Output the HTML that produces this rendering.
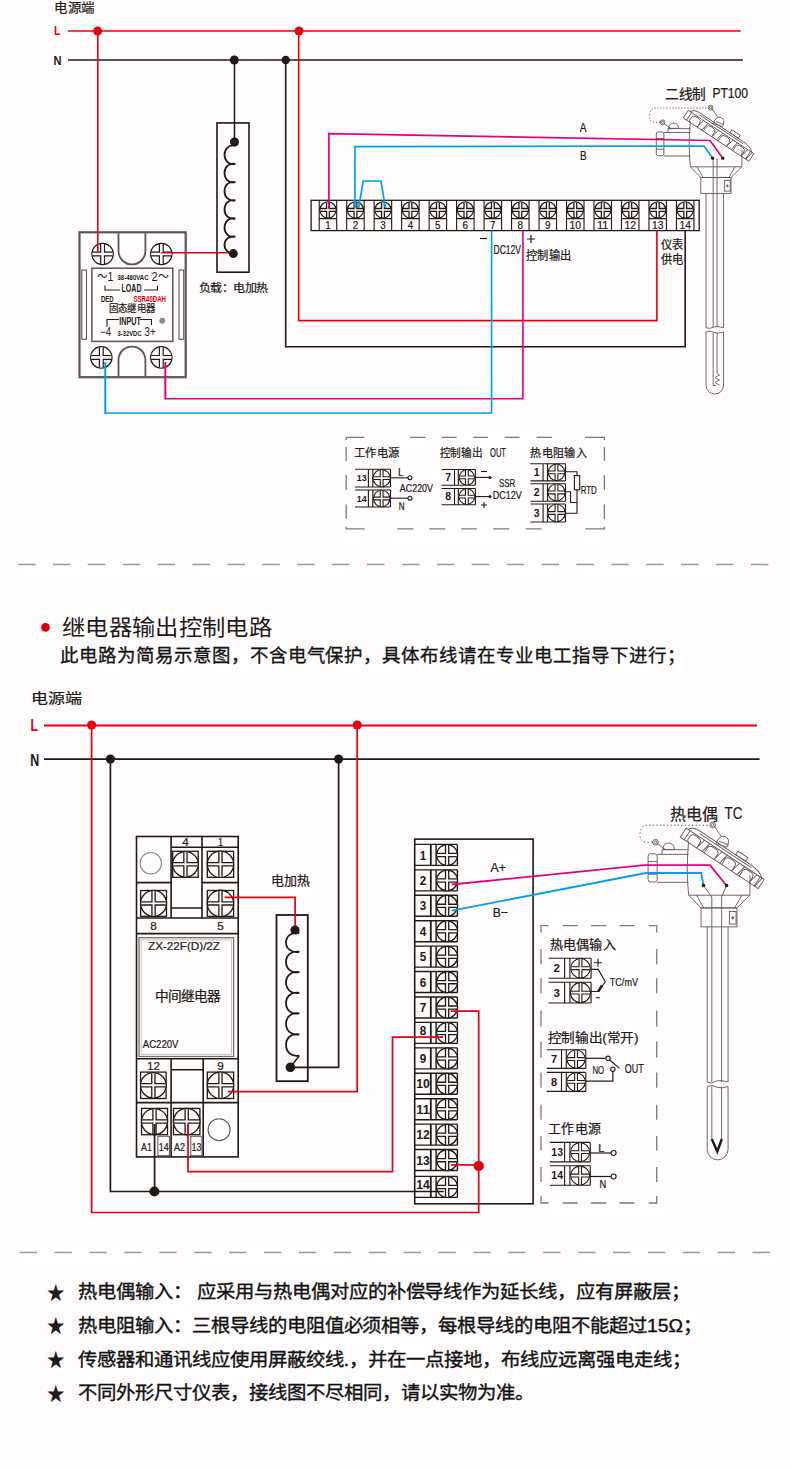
<!DOCTYPE html>
<html lang="zh-CN"><head><meta charset="utf-8"><title>wiring</title>
<style>html,body{margin:0;padding:0;background:#fefcfc;}body{width:790px;height:1469px;overflow:hidden;font-family:"Liberation Sans",sans-serif;}svg{display:block}</style></head>
<body><svg width="790" height="1469" viewBox="0 0 790 1469">
<text x="54" y="12" font-size="12.8" fill="#231815" text-anchor="start" font-weight="500" font-family="'Liberation Sans', sans-serif" textLength="41" lengthAdjust="spacingAndGlyphs" stroke="#231815" stroke-width="0.22">电源端</text>
<text x="54" y="34.7" font-size="13.5" fill="#e60012" text-anchor="start" font-weight="700" font-family="'Liberation Sans', sans-serif" textLength="6.5" lengthAdjust="spacingAndGlyphs" >L</text>
<text x="53.5" y="65" font-size="12.5" fill="#231815" text-anchor="start" font-weight="700" font-family="'Liberation Sans', sans-serif" textLength="8" lengthAdjust="spacingAndGlyphs" >N</text>
<line x1="68" y1="31" x2="740.6" y2="31" stroke="#e60012" stroke-width="1.7" />
<line x1="68" y1="60" x2="742.9" y2="60" stroke="#231815" stroke-width="1.7" />
<rect x="217" y="122.9" width="32" height="149.3" fill="none" stroke="#231815" stroke-width="1.6" />
<path d="M235.3 145.7 C220.936 142.97 220.936 166.63 235.3 163.9 C220.936 161.17000000000002 220.936 184.82999999999998 235.3 182.1 C220.936 179.37 220.936 203.03 235.3 200.3 C220.936 197.57000000000002 220.936 221.23 235.3 218.5 C220.936 215.77 220.936 239.42999999999998 235.3 236.7 C220.936 234.255 220.936 255.445 235.3 253" fill="none" stroke="#231815" stroke-width="1.8"/>
<text x="199" y="292" font-size="11.5" fill="#231815" text-anchor="start" font-weight="500" font-family="'Liberation Sans', sans-serif" textLength="68.5" lengthAdjust="spacingAndGlyphs" stroke="#231815" stroke-width="0.22">负载：电加热</text>
<rect x="311.1" y="200.3" width="388.1" height="30.3" fill="none" stroke="#231815" stroke-width="1.3" />
<path d="M319.20 200.3V230.6M336.70 200.3V230.6M319.20 218.6H336.70" stroke="#231815" stroke-width="1.1" fill="none"/>
<circle cx="328.0" cy="209.9" r="8.1" fill="#fefcfc" stroke="#231815" stroke-width="1.3"/>
<path d="M320.55 209.9H335.45M328.0 202.45000000000002V217.35" stroke="#231815" stroke-width="4.1"/>
<path d="M320.55 209.9H335.45M328.0 202.45000000000002V217.35" stroke="#fefcfc" stroke-width="1.4999999999999998"/>
<text x="327.95" y="228.8" font-size="11" fill="#231815" text-anchor="middle" font-weight="400" font-family="'Liberation Sans', sans-serif" textLength="5.5" lengthAdjust="spacingAndGlyphs" stroke="#231815" stroke-width="0.2">1</text>
<path d="M346.68 200.3V230.6M364.18 200.3V230.6M346.68 218.6H364.18" stroke="#231815" stroke-width="1.1" fill="none"/>
<circle cx="355.48" cy="209.9" r="8.1" fill="#fefcfc" stroke="#231815" stroke-width="1.3"/>
<path d="M348.03000000000003 209.9H362.93M355.48 202.45000000000002V217.35" stroke="#231815" stroke-width="4.1"/>
<path d="M348.03000000000003 209.9H362.93M355.48 202.45000000000002V217.35" stroke="#fefcfc" stroke-width="1.4999999999999998"/>
<text x="355.43" y="228.8" font-size="11" fill="#231815" text-anchor="middle" font-weight="400" font-family="'Liberation Sans', sans-serif" textLength="5.5" lengthAdjust="spacingAndGlyphs" stroke="#231815" stroke-width="0.2">2</text>
<path d="M374.16 200.3V230.6M391.66 200.3V230.6M374.16 218.6H391.66" stroke="#231815" stroke-width="1.1" fill="none"/>
<circle cx="382.96" cy="209.9" r="8.1" fill="#fefcfc" stroke="#231815" stroke-width="1.3"/>
<path d="M375.51 209.9H390.40999999999997M382.96 202.45000000000002V217.35" stroke="#231815" stroke-width="4.1"/>
<path d="M375.51 209.9H390.40999999999997M382.96 202.45000000000002V217.35" stroke="#fefcfc" stroke-width="1.4999999999999998"/>
<text x="382.91" y="228.8" font-size="11" fill="#231815" text-anchor="middle" font-weight="400" font-family="'Liberation Sans', sans-serif" textLength="5.5" lengthAdjust="spacingAndGlyphs" stroke="#231815" stroke-width="0.2">3</text>
<path d="M401.64 200.3V230.6M419.14 200.3V230.6M401.64 218.6H419.14" stroke="#231815" stroke-width="1.1" fill="none"/>
<circle cx="410.44" cy="209.9" r="8.1" fill="#fefcfc" stroke="#231815" stroke-width="1.3"/>
<path d="M402.99 209.9H417.89M410.44 202.45000000000002V217.35" stroke="#231815" stroke-width="4.1"/>
<path d="M402.99 209.9H417.89M410.44 202.45000000000002V217.35" stroke="#fefcfc" stroke-width="1.4999999999999998"/>
<text x="410.39" y="228.8" font-size="11" fill="#231815" text-anchor="middle" font-weight="400" font-family="'Liberation Sans', sans-serif" textLength="5.5" lengthAdjust="spacingAndGlyphs" stroke="#231815" stroke-width="0.2">4</text>
<path d="M429.12 200.3V230.6M446.62 200.3V230.6M429.12 218.6H446.62" stroke="#231815" stroke-width="1.1" fill="none"/>
<circle cx="437.92" cy="209.9" r="8.1" fill="#fefcfc" stroke="#231815" stroke-width="1.3"/>
<path d="M430.47 209.9H445.37M437.92 202.45000000000002V217.35" stroke="#231815" stroke-width="4.1"/>
<path d="M430.47 209.9H445.37M437.92 202.45000000000002V217.35" stroke="#fefcfc" stroke-width="1.4999999999999998"/>
<text x="437.87" y="228.8" font-size="11" fill="#231815" text-anchor="middle" font-weight="400" font-family="'Liberation Sans', sans-serif" textLength="5.5" lengthAdjust="spacingAndGlyphs" stroke="#231815" stroke-width="0.2">5</text>
<path d="M456.60 200.3V230.6M474.10 200.3V230.6M456.60 218.6H474.10" stroke="#231815" stroke-width="1.1" fill="none"/>
<circle cx="465.4" cy="209.9" r="8.1" fill="#fefcfc" stroke="#231815" stroke-width="1.3"/>
<path d="M457.95 209.9H472.84999999999997M465.4 202.45000000000002V217.35" stroke="#231815" stroke-width="4.1"/>
<path d="M457.95 209.9H472.84999999999997M465.4 202.45000000000002V217.35" stroke="#fefcfc" stroke-width="1.4999999999999998"/>
<text x="465.35" y="228.8" font-size="11" fill="#231815" text-anchor="middle" font-weight="400" font-family="'Liberation Sans', sans-serif" textLength="5.5" lengthAdjust="spacingAndGlyphs" stroke="#231815" stroke-width="0.2">6</text>
<path d="M484.08 200.3V230.6M501.58 200.3V230.6M484.08 218.6H501.58" stroke="#231815" stroke-width="1.1" fill="none"/>
<circle cx="492.88" cy="209.9" r="8.1" fill="#fefcfc" stroke="#231815" stroke-width="1.3"/>
<path d="M485.43 209.9H500.33M492.88 202.45000000000002V217.35" stroke="#231815" stroke-width="4.1"/>
<path d="M485.43 209.9H500.33M492.88 202.45000000000002V217.35" stroke="#fefcfc" stroke-width="1.4999999999999998"/>
<text x="492.83" y="228.8" font-size="11" fill="#231815" text-anchor="middle" font-weight="400" font-family="'Liberation Sans', sans-serif" textLength="5.5" lengthAdjust="spacingAndGlyphs" stroke="#231815" stroke-width="0.2">7</text>
<path d="M511.56 200.3V230.6M529.06 200.3V230.6M511.56 218.6H529.06" stroke="#231815" stroke-width="1.1" fill="none"/>
<circle cx="520.36" cy="209.9" r="8.1" fill="#fefcfc" stroke="#231815" stroke-width="1.3"/>
<path d="M512.91 209.9H527.8100000000001M520.36 202.45000000000002V217.35" stroke="#231815" stroke-width="4.1"/>
<path d="M512.91 209.9H527.8100000000001M520.36 202.45000000000002V217.35" stroke="#fefcfc" stroke-width="1.4999999999999998"/>
<text x="520.31" y="228.8" font-size="11" fill="#231815" text-anchor="middle" font-weight="400" font-family="'Liberation Sans', sans-serif" textLength="5.5" lengthAdjust="spacingAndGlyphs" stroke="#231815" stroke-width="0.2">8</text>
<path d="M539.04 200.3V230.6M556.54 200.3V230.6M539.04 218.6H556.54" stroke="#231815" stroke-width="1.1" fill="none"/>
<circle cx="547.84" cy="209.9" r="8.1" fill="#fefcfc" stroke="#231815" stroke-width="1.3"/>
<path d="M540.39 209.9H555.2900000000001M547.84 202.45000000000002V217.35" stroke="#231815" stroke-width="4.1"/>
<path d="M540.39 209.9H555.2900000000001M547.84 202.45000000000002V217.35" stroke="#fefcfc" stroke-width="1.4999999999999998"/>
<text x="547.79" y="228.8" font-size="11" fill="#231815" text-anchor="middle" font-weight="400" font-family="'Liberation Sans', sans-serif" textLength="5.5" lengthAdjust="spacingAndGlyphs" stroke="#231815" stroke-width="0.2">9</text>
<path d="M566.52 200.3V230.6M584.02 200.3V230.6M566.52 218.6H584.02" stroke="#231815" stroke-width="1.1" fill="none"/>
<circle cx="575.32" cy="209.9" r="8.1" fill="#fefcfc" stroke="#231815" stroke-width="1.3"/>
<path d="M567.87 209.9H582.7700000000001M575.32 202.45000000000002V217.35" stroke="#231815" stroke-width="4.1"/>
<path d="M567.87 209.9H582.7700000000001M575.32 202.45000000000002V217.35" stroke="#fefcfc" stroke-width="1.4999999999999998"/>
<text x="575.27" y="228.8" font-size="11" fill="#231815" text-anchor="middle" font-weight="400" font-family="'Liberation Sans', sans-serif" textLength="11.5" lengthAdjust="spacingAndGlyphs" stroke="#231815" stroke-width="0.2">10</text>
<path d="M594.00 200.3V230.6M611.50 200.3V230.6M594.00 218.6H611.50" stroke="#231815" stroke-width="1.1" fill="none"/>
<circle cx="602.8" cy="209.9" r="8.1" fill="#fefcfc" stroke="#231815" stroke-width="1.3"/>
<path d="M595.3499999999999 209.9H610.25M602.8 202.45000000000002V217.35" stroke="#231815" stroke-width="4.1"/>
<path d="M595.3499999999999 209.9H610.25M602.8 202.45000000000002V217.35" stroke="#fefcfc" stroke-width="1.4999999999999998"/>
<text x="602.75" y="228.8" font-size="11" fill="#231815" text-anchor="middle" font-weight="400" font-family="'Liberation Sans', sans-serif" textLength="11.5" lengthAdjust="spacingAndGlyphs" stroke="#231815" stroke-width="0.2">11</text>
<path d="M621.48 200.3V230.6M638.98 200.3V230.6M621.48 218.6H638.98" stroke="#231815" stroke-width="1.1" fill="none"/>
<circle cx="630.28" cy="209.9" r="8.1" fill="#fefcfc" stroke="#231815" stroke-width="1.3"/>
<path d="M622.8299999999999 209.9H637.73M630.28 202.45000000000002V217.35" stroke="#231815" stroke-width="4.1"/>
<path d="M622.8299999999999 209.9H637.73M630.28 202.45000000000002V217.35" stroke="#fefcfc" stroke-width="1.4999999999999998"/>
<text x="630.23" y="228.8" font-size="11" fill="#231815" text-anchor="middle" font-weight="400" font-family="'Liberation Sans', sans-serif" textLength="11.5" lengthAdjust="spacingAndGlyphs" stroke="#231815" stroke-width="0.2">12</text>
<path d="M648.96 200.3V230.6M666.46 200.3V230.6M648.96 218.6H666.46" stroke="#231815" stroke-width="1.1" fill="none"/>
<circle cx="657.76" cy="209.9" r="8.1" fill="#fefcfc" stroke="#231815" stroke-width="1.3"/>
<path d="M650.31 209.9H665.21M657.76 202.45000000000002V217.35" stroke="#231815" stroke-width="4.1"/>
<path d="M650.31 209.9H665.21M657.76 202.45000000000002V217.35" stroke="#fefcfc" stroke-width="1.4999999999999998"/>
<text x="657.71" y="228.8" font-size="11" fill="#231815" text-anchor="middle" font-weight="400" font-family="'Liberation Sans', sans-serif" textLength="11.5" lengthAdjust="spacingAndGlyphs" stroke="#231815" stroke-width="0.2">13</text>
<path d="M676.44 200.3V230.6M693.94 200.3V230.6M676.44 218.6H693.94" stroke="#231815" stroke-width="1.1" fill="none"/>
<circle cx="685.24" cy="209.9" r="8.1" fill="#fefcfc" stroke="#231815" stroke-width="1.3"/>
<path d="M677.79 209.9H692.69M685.24 202.45000000000002V217.35" stroke="#231815" stroke-width="4.1"/>
<path d="M677.79 209.9H692.69M685.24 202.45000000000002V217.35" stroke="#fefcfc" stroke-width="1.4999999999999998"/>
<text x="685.19" y="228.8" font-size="11" fill="#231815" text-anchor="middle" font-weight="400" font-family="'Liberation Sans', sans-serif" textLength="11.5" lengthAdjust="spacingAndGlyphs" stroke="#231815" stroke-width="0.2">14</text>
<text x="579.7" y="132.3" font-size="13.5" fill="#231815" text-anchor="start" font-weight="400" font-family="'Liberation Sans', sans-serif" textLength="6.8" lengthAdjust="spacingAndGlyphs" stroke="#231815" stroke-width="0.22">A</text>
<text x="580" y="160.4" font-size="13.5" fill="#231815" text-anchor="start" font-weight="400" font-family="'Liberation Sans', sans-serif" textLength="6.6" lengthAdjust="spacingAndGlyphs" stroke="#231815" stroke-width="0.22">B</text>
<line x1="480" y1="238.5" x2="487" y2="238.5" stroke="#231815" stroke-width="1.2" />
<path d="M527 239H535M531 235V243" stroke="#231815" stroke-width="1.2"/>
<text x="493.5" y="254.2" font-size="12.3" fill="#231815" text-anchor="start" font-weight="400" font-family="'Liberation Sans', sans-serif" textLength="27.5" lengthAdjust="spacingAndGlyphs" stroke="#231815" stroke-width="0.22">DC12V</text>
<text x="526" y="259.5" font-size="12" fill="#231815" text-anchor="start" font-weight="500" font-family="'Liberation Sans', sans-serif" textLength="45" lengthAdjust="spacingAndGlyphs" stroke="#231815" stroke-width="0.22">控制输出</text>
<text x="660.5" y="249" font-size="12" fill="#231815" text-anchor="start" font-weight="500" font-family="'Liberation Sans', sans-serif" textLength="22.5" lengthAdjust="spacingAndGlyphs" stroke="#231815" stroke-width="0.22">仪表</text>
<text x="660.5" y="263.5" font-size="12" fill="#231815" text-anchor="start" font-weight="500" font-family="'Liberation Sans', sans-serif" textLength="22.5" lengthAdjust="spacingAndGlyphs" stroke="#231815" stroke-width="0.22">供电</text>
<text x="665" y="98.5" font-size="14" fill="#231815" text-anchor="start" font-weight="500" font-family="'Liberation Sans', sans-serif" textLength="41" lengthAdjust="spacingAndGlyphs" stroke="#231815" stroke-width="0.22">二线制</text>
<text x="712.4" y="97.7" font-size="13.8" fill="#231815" text-anchor="start" font-weight="400" font-family="'Liberation Sans', sans-serif" textLength="35.6" lengthAdjust="spacingAndGlyphs" stroke="#231815" stroke-width="0.22">PT100</text>
<g transform="translate(0,0) scale(1)" fill="none" stroke="#5f5a58" stroke-width="0.90">
<rect x="656.3" y="132" width="7.6" height="23.7" rx="2"/>
<path d="M656.3 138.5H663.9M656.3 149.2H663.9"/>
<path d="M663.9 132.5H690.4M663.9 156H690.4M668 132.5V128.6H690.4"/>
<circle cx="662.5" cy="122.3" r="2.4"/><circle cx="662.5" cy="122.3" r="1.1"/><path d="M664 123.6L670.5 128.2"/>
<path d="M668.5 128.4Q669 123 673.5 123Q678 123 678.6 128.4Z"/>
<path d="M690.4 121Q688 145 690.4 166.8H741.9V150"/>
<g transform="translate(688.3,110.4) rotate(33.4)">
<rect x="0" y="0" width="78.5" height="9.1"/>
<path d="M4 0V9.1M74.5 0V9.1"/>
<path d="M6.5 9.1V4Q6.5 1 10.5 1H12.5Q16.5 1 16.5 4V9.1M16.5 9.1L18.5 0M22.1 9.1L23.700000000000003 0"/>
<path d="M24.1 9.1V4Q24.1 1 28.1 1H30.1Q34.1 1 34.1 4V9.1M34.1 9.1L36.1 0M39.7 9.1L41.300000000000004 0"/>
<path d="M41.7 9.1V4Q41.7 1 45.7 1H47.7Q51.7 1 51.7 4V9.1M51.7 9.1L53.7 0M57.300000000000004 9.1L58.900000000000006 0"/>
<path d="M59.300000000000004 9.1V4Q59.300000000000004 1 63.300000000000004 1H65.30000000000001Q69.30000000000001 1 69.30000000000001 4V9.1M69.30000000000001 9.1L71.30000000000001 0M74.9 9.1L76.5 0"/>
<path d="M2 0Q4 -4.2 10 -4.2H62Q72 -4.2 76 0M12 -2.4H64"/>
<rect x="47" y="-7.8" width="10" height="3.6"/>
</g>
<path d="M713.5 123.5Q715.5 116 721 117.5Q726 119.5 722.5 126.5Z"/><path d="M716 121.5L724 124.5"/>
<circle cx="710.6" cy="107.7" r="2.4"/><circle cx="710.6" cy="107.7" r="1.1"/><path d="M712 109L717.5 117"/>
<path d="M660 122.3H655Q649 122 649.5 115Q650.5 108 656 108H708" stroke-dasharray="1.1 1.9" stroke="#444"/>
<path d="M690.4 166.8L700.8 177.5H731L741.9 166.8M697 166.8L703 177.5M735 166.8L729 177.5"/>
<rect x="700.8" y="177.5" width="30.2" height="15.9"/>
<rect x="724.6" y="180.5" width="5.6" height="10.6"/><circle cx="727.4" cy="185.8" r="0.9" fill="#6f6b6a"/>
<path d="M706 193.4V327.6M723.5 193.4V327.6M706 327.6Q710 329.6 713 327.1Q717 325.6 723.5 327.6"/>
<path d="M706 332Q710 330 714 332.5Q718 334 723.5 332"/>
<path d="M706 332V385.25A8.75 8.75 0 0 0 723.5 385.25V332"/>
</g>
<g fill="none" stroke="#5f5a58" stroke-width="0.9">
<path d="M713.2 158.2V327.5M717.1 158.2V327.5M713.2 333V385.5H716M717.1 333V373"/>
<path d="M717.1 373L719.5 375L715 377.5L719.5 380L715 382.5L719.5 385"/>
</g>
<rect x="79.5" y="232.3" width="106.2" height="144.9" fill="none" stroke="#5a5655" stroke-width="2.2" />
<path d="M118.5 233.3V251A13.45 13.45 0 0 0 145.4 251V233.3M118.5 376.2V360A13.45 13.45 0 0 1 145.4 360V376.2" fill="none" stroke="#5a5655" stroke-width="1.8"/>
<rect x="91.9" y="268.2" width="80.9" height="73.2" fill="none" stroke="#5a5655" stroke-width="1.5" />
<rect x="81.8" y="270" width="4.7" height="69.3" fill="none" stroke="#5a5655" stroke-width="1.1" />
<rect x="179" y="270" width="4.7" height="69.3" fill="none" stroke="#5a5655" stroke-width="1.1" />
<circle cx="102.6" cy="254" r="10.7" fill="#fefcfc" stroke="#231815" stroke-width="1.2"/>
<path d="M92.5 254H112.69999999999999M102.6 243.9V264.1" stroke="#231815" stroke-width="5.0"/>
<path d="M92.5 254H112.69999999999999M102.6 243.9V264.1" stroke="#fefcfc" stroke-width="2.5999999999999996"/>
<circle cx="161.3" cy="254" r="10.7" fill="#fefcfc" stroke="#231815" stroke-width="1.2"/>
<path d="M151.20000000000002 254H171.4M161.3 243.9V264.1" stroke="#231815" stroke-width="5.0"/>
<path d="M151.20000000000002 254H171.4M161.3 243.9V264.1" stroke="#fefcfc" stroke-width="2.5999999999999996"/>
<circle cx="101.3" cy="357.4" r="10.7" fill="#fefcfc" stroke="#231815" stroke-width="1.2"/>
<path d="M91.2 357.4H111.39999999999999M101.3 347.29999999999995V367.5" stroke="#231815" stroke-width="5.0"/>
<path d="M91.2 357.4H111.39999999999999M101.3 347.29999999999995V367.5" stroke="#fefcfc" stroke-width="2.5999999999999996"/>
<circle cx="161.3" cy="357.4" r="10.7" fill="#fefcfc" stroke="#231815" stroke-width="1.2"/>
<path d="M151.20000000000002 357.4H171.4M161.3 347.29999999999995V367.5" stroke="#231815" stroke-width="5.0"/>
<path d="M151.20000000000002 357.4H171.4M161.3 347.29999999999995V367.5" stroke="#fefcfc" stroke-width="2.5999999999999996"/>
<text x="97" y="281.2" font-size="12" fill="#231815" text-anchor="start" font-weight="400" font-family="'Liberation Sans', sans-serif" textLength="16.5" lengthAdjust="spacingAndGlyphs" stroke-width="0">～1</text>
<text x="117.5" y="280" font-size="7.5" fill="#231815" text-anchor="start" font-weight="700" font-family="'Liberation Sans', sans-serif" textLength="31" lengthAdjust="spacingAndGlyphs" >38-480VAC</text>
<text x="151.5" y="281.2" font-size="12" fill="#231815" text-anchor="start" font-weight="400" font-family="'Liberation Sans', sans-serif" textLength="17" lengthAdjust="spacingAndGlyphs" stroke-width="0">2～</text>
<path d="M105 285.5V290H120M144 290H157.5V285.5" fill="none" stroke="#231815" stroke-width="1.1"/>
<text x="121.5" y="292.3" font-size="10" fill="#231815" text-anchor="start" font-weight="700" font-family="'Liberation Sans', sans-serif" textLength="20" lengthAdjust="spacingAndGlyphs" >LOAD</text>
<text x="101" y="301.7" font-size="8.5" fill="#231815" text-anchor="start" font-weight="700" font-family="'Liberation Sans', sans-serif" textLength="12.5" lengthAdjust="spacingAndGlyphs" >DED</text>
<text x="133.5" y="301.7" font-size="8.5" fill="#e60012" text-anchor="start" font-weight="700" font-family="'Liberation Sans', sans-serif" textLength="32.5" lengthAdjust="spacingAndGlyphs" >SSR40DAH</text>
<text x="109" y="311.5" font-size="10.3" fill="#231815" text-anchor="start" font-weight="500" font-family="'Liberation Sans', sans-serif" textLength="46" lengthAdjust="spacingAndGlyphs" stroke="#231815" stroke-width="0.22">固态继电器</text>
<path d="M107 327V319.5H119M140 319.5H151.5V325" fill="none" stroke="#231815" stroke-width="1.1"/>
<text x="119.3" y="324.8" font-size="10" fill="#231815" text-anchor="start" font-weight="700" font-family="'Liberation Sans', sans-serif" textLength="21.7" lengthAdjust="spacingAndGlyphs" >INPUT</text>
<circle cx="162.2" cy="320.7" r="3" fill="#8f8f8f"/>
<text x="100" y="335.5" font-size="12" fill="#231815" text-anchor="start" font-weight="400" font-family="'Liberation Sans', sans-serif" textLength="11" lengthAdjust="spacingAndGlyphs" stroke-width="0">−4</text>
<text x="117.5" y="336" font-size="7.5" fill="#231815" text-anchor="start" font-weight="700" font-family="'Liberation Sans', sans-serif" textLength="24" lengthAdjust="spacingAndGlyphs" >3-32VDC</text>
<text x="144.6" y="335.5" font-size="12" fill="#231815" text-anchor="start" font-weight="400" font-family="'Liberation Sans', sans-serif" textLength="11" lengthAdjust="spacingAndGlyphs" stroke-width="0">3+</text>
<path d="M345.6 437.4H364.5M410 437.4H425.4M441.8 437.4H456.6M473.3 437.4H488M504.7 437.4H519.6M536.5 437.4H551.9M585 437.4H605M345.6 528.9H364.6M397.4 528.9H413.5M429.5 528.9H445.3M461.3 528.9H476.7M493.1 528.9H509.2M525.6 528.9H541.6M585.4 528.9H605M346.2 436.8V440M604.4 436.8V440M346.2 447V461M604.4 447V461M346.2 475.2V489.8M604.4 475.2V489.8M346.2 504.4V519M604.4 504.4V519M346.2 526.8V529.5M604.4 526.8V529.5" stroke="#7a7a7a" stroke-width="1.3" fill="none"/>
<text x="353.7" y="457" font-size="11.8" fill="#231815" text-anchor="start" font-weight="500" font-family="'Liberation Sans', sans-serif" textLength="46.1" lengthAdjust="spacingAndGlyphs" stroke="#231815" stroke-width="0.22">工作电源</text>
<text x="439.5" y="457" font-size="11.8" fill="#231815" text-anchor="start" font-weight="500" font-family="'Liberation Sans', sans-serif" textLength="43.4" lengthAdjust="spacingAndGlyphs" stroke="#231815" stroke-width="0.22">控制输出</text>
<text x="490" y="456.5" font-size="12" fill="#231815" text-anchor="start" font-weight="400" font-family="'Liberation Sans', sans-serif" textLength="16" lengthAdjust="spacingAndGlyphs" stroke="#231815" stroke-width="0.22">OUT</text>
<text x="530.4" y="457" font-size="11.8" fill="#231815" text-anchor="start" font-weight="500" font-family="'Liberation Sans', sans-serif" textLength="56.4" lengthAdjust="spacingAndGlyphs" stroke="#231815" stroke-width="0.22">热电阻输入</text>
<path d="M355 469.3H390.5M355 487H390.5M368.4 469.3V487M372.8 469.3V487M390.5 469.3V487" stroke="#231815" stroke-width="1.1" fill="none"/>
<circle cx="381.65" cy="478.15" r="8.549999999999994" fill="#fefcfc" stroke="#231815" stroke-width="1.1"/>
<path d="M373.65 478.15H389.65M381.65 470.15V486.15" stroke="#231815" stroke-width="3.9"/>
<path d="M373.65 478.15H389.65M381.65 470.15V486.15" stroke="#fefcfc" stroke-width="1.6999999999999997"/>
<text x="361.7" y="481.39" font-size="9" fill="#231815" text-anchor="middle" font-weight="700" font-family="'Liberation Sans', sans-serif" >13</text>
<path d="M355 490H390.5M355 507H390.5M368.4 490V507M372.8 490V507M390.5 490V507" stroke="#231815" stroke-width="1.1" fill="none"/>
<circle cx="381.65" cy="498.5" r="8.2" fill="#fefcfc" stroke="#231815" stroke-width="1.1"/>
<path d="M374.0 498.5H389.29999999999995M381.65 490.85V506.15" stroke="#231815" stroke-width="3.9"/>
<path d="M374.0 498.5H389.29999999999995M381.65 490.85V506.15" stroke="#fefcfc" stroke-width="1.6999999999999997"/>
<text x="361.7" y="501.74" font-size="9" fill="#231815" text-anchor="middle" font-weight="700" font-family="'Liberation Sans', sans-serif" >14</text>
<polyline points="390.5,477.8 408,477.8" fill="none" stroke="#231815" stroke-width="1.1" stroke-linejoin="miter" />
<circle cx="410" cy="477.8" r="2" fill="#fefcfc" stroke="#231815" stroke-width="1.1"/>
<polyline points="390.5,498.2 408,498.2" fill="none" stroke="#231815" stroke-width="1.1" stroke-linejoin="miter" />
<circle cx="410" cy="498.2" r="2" fill="#fefcfc" stroke="#231815" stroke-width="1.1"/>
<text x="398" y="475.6" font-size="11" fill="#231815" text-anchor="start" font-weight="400" font-family="'Liberation Sans', sans-serif" textLength="5.5" lengthAdjust="spacingAndGlyphs" stroke="#231815" stroke-width="0.22">L</text>
<text x="399.8" y="492.3" font-size="11.4" fill="#231815" text-anchor="start" font-weight="400" font-family="'Liberation Sans', sans-serif" textLength="33.2" lengthAdjust="spacingAndGlyphs" stroke="#231815" stroke-width="0.22">AC220V</text>
<text x="398.8" y="510.4" font-size="10.5" fill="#231815" text-anchor="start" font-weight="400" font-family="'Liberation Sans', sans-serif" textLength="5.8" lengthAdjust="spacingAndGlyphs" stroke="#231815" stroke-width="0.22">N</text>
<path d="M441.6 469.5H475.4M441.6 485.3H475.4M454.5 469.5V485.3M458.3 469.5V485.3M475.4 469.5V485.3" stroke="#231815" stroke-width="1.1" fill="none"/>
<circle cx="466.85" cy="477.4" r="7.600000000000006" fill="#fefcfc" stroke="#231815" stroke-width="1.1"/>
<path d="M459.8 477.4H473.90000000000003M466.85 470.34999999999997V484.45" stroke="#231815" stroke-width="3.9"/>
<path d="M459.8 477.4H473.90000000000003M466.85 470.34999999999997V484.45" stroke="#fefcfc" stroke-width="1.6999999999999997"/>
<text x="448.05" y="481.18" font-size="10.5" fill="#231815" text-anchor="middle" font-weight="700" font-family="'Liberation Sans', sans-serif" >7</text>
<path d="M441.6 488.5H475.4M441.6 504.8H475.4M454.5 488.5V504.8M458.3 488.5V504.8M475.4 488.5V504.8" stroke="#231815" stroke-width="1.1" fill="none"/>
<circle cx="466.85" cy="496.65" r="7.850000000000006" fill="#fefcfc" stroke="#231815" stroke-width="1.1"/>
<path d="M459.55 496.65H474.15000000000003M466.85 489.34999999999997V503.95" stroke="#231815" stroke-width="3.9"/>
<path d="M459.55 496.65H474.15000000000003M466.85 489.34999999999997V503.95" stroke="#fefcfc" stroke-width="1.6999999999999997"/>
<text x="448.05" y="500.43" font-size="10.5" fill="#231815" text-anchor="middle" font-weight="700" font-family="'Liberation Sans', sans-serif" >8</text>
<polyline points="475.4,477.4 490,477.4" fill="none" stroke="#231815" stroke-width="1.1" stroke-linejoin="miter" />
<circle cx="490" cy="477.4" r="1.5" fill="#231815"/>
<polyline points="475.4,496.6 490,496.6" fill="none" stroke="#231815" stroke-width="1.1" stroke-linejoin="miter" />
<circle cx="490" cy="496.6" r="1.5" fill="#231815"/>
<line x1="481" y1="471.5" x2="487" y2="471.5" stroke="#231815" stroke-width="1.1" />
<path d="M481 505H487M484 502V508" stroke="#231815" stroke-width="1.1"/>
<text x="499" y="486.5" font-size="11.5" fill="#231815" text-anchor="start" font-weight="400" font-family="'Liberation Sans', sans-serif" textLength="16.3" lengthAdjust="spacingAndGlyphs" stroke="#231815" stroke-width="0.22">SSR</text>
<text x="492.8" y="498.5" font-size="11.5" fill="#231815" text-anchor="start" font-weight="400" font-family="'Liberation Sans', sans-serif" textLength="29" lengthAdjust="spacingAndGlyphs" stroke="#231815" stroke-width="0.22">DC12V</text>
<path d="M530.4 463.8H565.5M530.4 480.9H565.5M543.1 463.8V480.9M547.5 463.8V480.9M565.5 463.8V480.9" stroke="#231815" stroke-width="1.1" fill="none"/>
<circle cx="556.5" cy="472.35" r="8.249999999999982" fill="#fefcfc" stroke="#231815" stroke-width="1.1"/>
<path d="M548.8000000000001 472.35H564.1999999999999M556.5 464.65000000000003V480.05" stroke="#231815" stroke-width="3.9"/>
<path d="M548.8000000000001 472.35H564.1999999999999M556.5 464.65000000000003V480.05" stroke="#fefcfc" stroke-width="1.6999999999999997"/>
<text x="536.75" y="476.13" font-size="10.5" fill="#231815" text-anchor="middle" font-weight="700" font-family="'Liberation Sans', sans-serif" >1</text>
<path d="M530.4 483.7H565.5M530.4 501.2H565.5M543.1 483.7V501.2M547.5 483.7V501.2M565.5 483.7V501.2" stroke="#231815" stroke-width="1.1" fill="none"/>
<circle cx="556.5" cy="492.45" r="8.45" fill="#fefcfc" stroke="#231815" stroke-width="1.1"/>
<path d="M548.6 492.45H564.4M556.5 484.55V500.34999999999997" stroke="#231815" stroke-width="3.9"/>
<path d="M548.6 492.45H564.4M556.5 484.55V500.34999999999997" stroke="#fefcfc" stroke-width="1.6999999999999997"/>
<text x="536.75" y="496.23" font-size="10.5" fill="#231815" text-anchor="middle" font-weight="700" font-family="'Liberation Sans', sans-serif" >2</text>
<path d="M530.4 504H565.5M530.4 522H565.5M543.1 504V522M547.5 504V522M565.5 504V522" stroke="#231815" stroke-width="1.1" fill="none"/>
<circle cx="556.5" cy="513.0" r="8.7" fill="#fefcfc" stroke="#231815" stroke-width="1.1"/>
<path d="M548.35 513.0H564.65M556.5 504.85V521.15" stroke="#231815" stroke-width="3.9"/>
<path d="M548.35 513.0H564.65M556.5 504.85V521.15" stroke="#fefcfc" stroke-width="1.6999999999999997"/>
<text x="536.75" y="516.78" font-size="10.5" fill="#231815" text-anchor="middle" font-weight="700" font-family="'Liberation Sans', sans-serif" >3</text>
<path d="M565.5 471.8H577V475.6M577 489.8V513.2H565.5M565.5 491.7H570.6V502.5H577" fill="none" stroke="#231815" stroke-width="1.1"/>
<rect x="574.4" y="475.6" width="5.3" height="14.2" fill="#fefcfc" stroke="#231815" stroke-width="1.1" />
<text x="580.7" y="494" font-size="10.5" fill="#231815" text-anchor="start" font-weight="400" font-family="'Liberation Sans', sans-serif" textLength="16" lengthAdjust="spacingAndGlyphs" stroke="#231815" stroke-width="0.22">RTD</text>
<line x1="18" y1="564.6" x2="770" y2="564.6" stroke="#9a9a9a" stroke-width="1.5" stroke-dasharray="17.5 17.4"/>
<circle cx="45.5" cy="627.4" r="4.3" fill="#d7000f"/>
<text x="62" y="635" font-size="22" fill="#231815" text-anchor="start" font-weight="400" font-family="'Liberation Sans', sans-serif" textLength="210.1" lengthAdjust="spacingAndGlyphs" >继电器输出控制电路</text>
<text x="60" y="662" font-size="18.5" fill="#111" text-anchor="start" font-weight="500" font-family="'Liberation Sans', sans-serif" textLength="625.8" lengthAdjust="spacingAndGlyphs" stroke="#111" stroke-width="0.3">此电路为简易示意图，不含电气保护，具体布线请在专业电工指导下进行；</text>
<text x="31.2" y="703" font-size="14" fill="#231815" text-anchor="start" font-weight="500" font-family="'Liberation Sans', sans-serif" textLength="51" lengthAdjust="spacingAndGlyphs" stroke="#231815" stroke-width="0.22">电源端</text>
<text x="30.6" y="730.5" font-size="16.5" fill="#e60012" text-anchor="start" font-weight="700" font-family="'Liberation Sans', sans-serif" textLength="7.5" lengthAdjust="spacingAndGlyphs" >L</text>
<text x="30.3" y="765.5" font-size="16.5" fill="#231815" text-anchor="start" font-weight="700" font-family="'Liberation Sans', sans-serif" textLength="9" lengthAdjust="spacingAndGlyphs" >N</text>
<line x1="44" y1="725.4" x2="757" y2="725.4" stroke="#e60012" stroke-width="2" />
<line x1="44" y1="759.1" x2="759.6" y2="759.1" stroke="#231815" stroke-width="1.9" />
<rect x="136.5" y="836.5" width="101.7" height="320.4" fill="none" stroke="#231815" stroke-width="1.6" />
<path d="M171.1 836.5V918M202 836.5V918M171.1 847.2H238.2M136.5 882.6H171.1M202 882.6H238.2M171.1 908H202M136.5 918H238.2M136.5 933.6H238.2M136.5 1058.7H238.2M171.1 1058.7V1156.9M203.2 1058.7V1156.9M171.1 1069.7H203.2M136.5 1102.6H238.2" fill="none" stroke="#231815" stroke-width="1.6"/>
<rect x="139" y="937.7" width="94.6" height="118.8" fill="none" stroke="#7a6e68" stroke-width="1.3" />
<rect x="141.2" y="939.9" width="90.2" height="114.4" fill="none" stroke="#b9b0ab" stroke-width="0.8" />
<rect x="172.7" y="851.3" width="25.5" height="26.0" fill="none" stroke="#231815" stroke-width="1.3" />
<circle cx="185.45" cy="864.3" r="12.75" fill="#fefcfc" stroke="#231815" stroke-width="1.3"/>
<path d="M173.35 864.3H197.54999999999998M185.45 852.1999999999999V876.4" stroke="#231815" stroke-width="4.5"/>
<path d="M173.35 864.3H197.54999999999998M185.45 852.1999999999999V876.4" stroke="#fefcfc" stroke-width="1.9000000000000001"/>
<rect x="207.3" y="851.3" width="26.299999999999983" height="26.0" fill="none" stroke="#231815" stroke-width="1.3" />
<circle cx="220.45" cy="864.3" r="13.15" fill="#fefcfc" stroke="#231815" stroke-width="1.3"/>
<path d="M207.95 864.3H232.95M220.45 851.8V876.8" stroke="#231815" stroke-width="4.5"/>
<path d="M207.95 864.3H232.95M220.45 851.8V876.8" stroke="#fefcfc" stroke-width="1.9000000000000001"/>
<rect x="140.6" y="890.5" width="25.900000000000006" height="25.799999999999955" fill="none" stroke="#231815" stroke-width="1.3" />
<circle cx="153.55" cy="903.4" r="12.95" fill="#fefcfc" stroke="#231815" stroke-width="1.3"/>
<path d="M141.25 903.4H165.85000000000002M153.55 891.1V915.6999999999999" stroke="#231815" stroke-width="4.5"/>
<path d="M141.25 903.4H165.85000000000002M153.55 891.1V915.6999999999999" stroke="#fefcfc" stroke-width="1.9000000000000001"/>
<rect x="207.3" y="890.5" width="26.299999999999983" height="25.799999999999955" fill="none" stroke="#231815" stroke-width="1.3" />
<circle cx="220.45" cy="903.4" r="13.15" fill="#fefcfc" stroke="#231815" stroke-width="1.3"/>
<path d="M207.95 903.4H232.95M220.45 890.9V915.9" stroke="#231815" stroke-width="4.5"/>
<path d="M207.95 903.4H232.95M220.45 890.9V915.9" stroke="#fefcfc" stroke-width="1.9000000000000001"/>
<rect x="140.6" y="1072.1" width="25.5" height="26.40000000000009" fill="none" stroke="#231815" stroke-width="1.3" />
<circle cx="153.35" cy="1085.3" r="12.75" fill="#fefcfc" stroke="#231815" stroke-width="1.3"/>
<path d="M141.25 1085.3H165.45M153.35 1073.2V1097.3999999999999" stroke="#231815" stroke-width="4.5"/>
<path d="M141.25 1085.3H165.45M153.35 1073.2V1097.3999999999999" stroke="#fefcfc" stroke-width="1.9000000000000001"/>
<rect x="207.3" y="1072.1" width="26.299999999999983" height="26.40000000000009" fill="none" stroke="#231815" stroke-width="1.3" />
<circle cx="220.45" cy="1085.3" r="13.15" fill="#fefcfc" stroke="#231815" stroke-width="1.3"/>
<path d="M207.95 1085.3H232.95M220.45 1072.8V1097.8" stroke="#231815" stroke-width="4.5"/>
<path d="M207.95 1085.3H232.95M220.45 1072.8V1097.8" stroke="#fefcfc" stroke-width="1.9000000000000001"/>
<rect x="141.5" y="1108.4" width="26.0" height="26.299999999999955" fill="none" stroke="#231815" stroke-width="1.3" />
<circle cx="154.5" cy="1121.55" r="13.0" fill="#fefcfc" stroke="#231815" stroke-width="1.3"/>
<path d="M142.15 1121.55H166.85M154.5 1109.2V1133.8999999999999" stroke="#231815" stroke-width="4.5"/>
<path d="M142.15 1121.55H166.85M154.5 1109.2V1133.8999999999999" stroke="#fefcfc" stroke-width="1.9000000000000001"/>
<rect x="173.5" y="1108.4" width="26.400000000000006" height="26.299999999999955" fill="none" stroke="#231815" stroke-width="1.3" />
<circle cx="186.7" cy="1121.55" r="13.2" fill="#fefcfc" stroke="#231815" stroke-width="1.3"/>
<path d="M174.14999999999998 1121.55H199.25M186.7 1109.0V1134.1" stroke="#231815" stroke-width="4.5"/>
<path d="M174.14999999999998 1121.55H199.25M186.7 1109.0V1134.1" stroke="#fefcfc" stroke-width="1.9000000000000001"/>
<circle cx="150.8" cy="863.2" r="10.7" fill="none" stroke="#8a8a8a" stroke-width="1.1"/>
<circle cx="219.1" cy="1129.7" r="11" fill="none" stroke="#555" stroke-width="1.1"/>
<text x="185.5" y="845.5" font-size="11.5" fill="#231815" text-anchor="middle" font-weight="400" font-family="'Liberation Sans', sans-serif" textLength="6.5" lengthAdjust="spacingAndGlyphs" stroke="#231815" stroke-width="0.22">4</text>
<text x="220.5" y="845.5" font-size="11.5" fill="#231815" text-anchor="middle" font-weight="400" font-family="'Liberation Sans', sans-serif" textLength="5" lengthAdjust="spacingAndGlyphs" stroke="#231815" stroke-width="0.22">1</text>
<text x="153.5" y="930" font-size="11.5" fill="#231815" text-anchor="middle" font-weight="400" font-family="'Liberation Sans', sans-serif" textLength="6.5" lengthAdjust="spacingAndGlyphs" stroke="#231815" stroke-width="0.22">8</text>
<text x="220.5" y="930" font-size="11.5" fill="#231815" text-anchor="middle" font-weight="400" font-family="'Liberation Sans', sans-serif" textLength="6.5" lengthAdjust="spacingAndGlyphs" stroke="#231815" stroke-width="0.22">5</text>
<text x="153.5" y="1070" font-size="11.5" fill="#231815" text-anchor="middle" font-weight="400" font-family="'Liberation Sans', sans-serif" textLength="13" lengthAdjust="spacingAndGlyphs" stroke="#231815" stroke-width="0.22">12</text>
<text x="220.5" y="1070" font-size="11.5" fill="#231815" text-anchor="middle" font-weight="400" font-family="'Liberation Sans', sans-serif" textLength="6.5" lengthAdjust="spacingAndGlyphs" stroke="#231815" stroke-width="0.22">9</text>
<text x="148" y="949.5" font-size="11" fill="#231815" text-anchor="start" font-weight="400" font-family="'Liberation Sans', sans-serif" textLength="72" lengthAdjust="spacingAndGlyphs" stroke="#231815" stroke-width="0.22">ZX-22F(D)/2Z</text>
<text x="154.6" y="1000.5" font-size="13.5" fill="#231815" text-anchor="start" font-weight="500" font-family="'Liberation Sans', sans-serif" textLength="65.8" lengthAdjust="spacingAndGlyphs" stroke="#231815" stroke-width="0.22">中间继电器</text>
<text x="142.8" y="1048" font-size="11" fill="#231815" text-anchor="start" font-weight="400" font-family="'Liberation Sans', sans-serif" textLength="35.7" lengthAdjust="spacingAndGlyphs" stroke="#231815" stroke-width="0.22">AC220V</text>
<rect x="157.9" y="1136.3" width="11.5" height="19.4" fill="none" stroke="#555" stroke-width="1" />
<rect x="190.8" y="1136.3" width="11.2" height="19.4" fill="none" stroke="#555" stroke-width="1" />
<text x="141" y="1150.5" font-size="11" fill="#231815" text-anchor="start" font-weight="400" font-family="'Liberation Sans', sans-serif" textLength="11" lengthAdjust="spacingAndGlyphs" stroke="#231815" stroke-width="0.22">A1</text>
<text x="158.8" y="1150.5" font-size="10.5" fill="#231815" text-anchor="start" font-weight="400" font-family="'Liberation Sans', sans-serif" textLength="10" lengthAdjust="spacingAndGlyphs" stroke="#231815" stroke-width="0.22">14</text>
<text x="174" y="1150.5" font-size="11" fill="#231815" text-anchor="start" font-weight="400" font-family="'Liberation Sans', sans-serif" textLength="11" lengthAdjust="spacingAndGlyphs" stroke="#231815" stroke-width="0.22">A2</text>
<text x="191.5" y="1150.5" font-size="10.5" fill="#231815" text-anchor="start" font-weight="400" font-family="'Liberation Sans', sans-serif" textLength="10" lengthAdjust="spacingAndGlyphs" stroke="#231815" stroke-width="0.22">13</text>
<text x="270.8" y="885" font-size="13" fill="#231815" text-anchor="start" font-weight="500" font-family="'Liberation Sans', sans-serif" textLength="38.9" lengthAdjust="spacingAndGlyphs" stroke="#231815" stroke-width="0.22">电加热</text>
<rect x="276.5" y="915" width="31.3" height="166.2" fill="none" stroke="#231815" stroke-width="1.8" />
<path d="M299.3 933 C281.611 930.1800000000001 281.611 954.6199999999999 299.3 951.8 C281.611 948.7399999999999 281.611 975.2600000000001 299.3 972.2 C281.611 969.095 281.611 996.005 299.3 992.9 C281.611 989.8249999999999 281.611 1016.475 299.3 1013.4 C281.611 1010.265 281.611 1037.435 299.3 1034.3 C281.611 1031.105 281.611 1058.7949999999998 299.3 1055.6" fill="none" stroke="#231815" stroke-width="1.8"/>
<rect x="414.7" y="839.1" width="118.4" height="364.7" fill="none" stroke="#231815" stroke-width="1.6" />
<path d="M414.7 844.40H457.4M414.7 865.40H457.4M436.1 844.40V865.40M457.4 844.40V865.40" stroke="#231815" stroke-width="1.4" fill="none"/>
<path d="M430.8 844.40V865.40" stroke="#231815" stroke-width="1.8"/>
<circle cx="447.1" cy="855.0" r="10.4" fill="#fefcfc" stroke="#231815" stroke-width="1.3"/>
<path d="M437.35 855.0H456.85M447.1 845.25V864.75" stroke="#231815" stroke-width="4.5"/>
<path d="M437.35 855.0H456.85M447.1 845.25V864.75" stroke="#fefcfc" stroke-width="1.9000000000000001"/>
<text x="423" y="859.6" font-size="12.5" fill="#231815" text-anchor="middle" font-weight="700" font-family="'Liberation Sans', sans-serif" textLength="6.5" lengthAdjust="spacingAndGlyphs" >1</text>
<path d="M414.7 869.83H457.4M414.7 890.83H457.4M436.1 869.83V890.83M457.4 869.83V890.83" stroke="#231815" stroke-width="1.4" fill="none"/>
<path d="M430.8 869.83V890.83" stroke="#231815" stroke-width="1.8"/>
<circle cx="447.1" cy="880.43" r="10.4" fill="#fefcfc" stroke="#231815" stroke-width="1.3"/>
<path d="M437.35 880.43H456.85M447.1 870.68V890.18" stroke="#231815" stroke-width="4.5"/>
<path d="M437.35 880.43H456.85M447.1 870.68V890.18" stroke="#fefcfc" stroke-width="1.9000000000000001"/>
<text x="423" y="885.03" font-size="12.5" fill="#231815" text-anchor="middle" font-weight="700" font-family="'Liberation Sans', sans-serif" textLength="6.5" lengthAdjust="spacingAndGlyphs" >2</text>
<path d="M414.7 895.26H457.4M414.7 916.26H457.4M436.1 895.26V916.26M457.4 895.26V916.26" stroke="#231815" stroke-width="1.4" fill="none"/>
<path d="M430.8 895.26V916.26" stroke="#231815" stroke-width="1.8"/>
<circle cx="447.1" cy="905.86" r="10.4" fill="#fefcfc" stroke="#231815" stroke-width="1.3"/>
<path d="M437.35 905.86H456.85M447.1 896.11V915.61" stroke="#231815" stroke-width="4.5"/>
<path d="M437.35 905.86H456.85M447.1 896.11V915.61" stroke="#fefcfc" stroke-width="1.9000000000000001"/>
<text x="423" y="910.46" font-size="12.5" fill="#231815" text-anchor="middle" font-weight="700" font-family="'Liberation Sans', sans-serif" textLength="6.5" lengthAdjust="spacingAndGlyphs" >3</text>
<path d="M414.7 920.69H457.4M414.7 941.69H457.4M436.1 920.69V941.69M457.4 920.69V941.69" stroke="#231815" stroke-width="1.4" fill="none"/>
<path d="M430.8 920.69V941.69" stroke="#231815" stroke-width="1.8"/>
<circle cx="447.1" cy="931.29" r="10.4" fill="#fefcfc" stroke="#231815" stroke-width="1.3"/>
<path d="M437.35 931.29H456.85M447.1 921.54V941.04" stroke="#231815" stroke-width="4.5"/>
<path d="M437.35 931.29H456.85M447.1 921.54V941.04" stroke="#fefcfc" stroke-width="1.9000000000000001"/>
<text x="423" y="935.89" font-size="12.5" fill="#231815" text-anchor="middle" font-weight="700" font-family="'Liberation Sans', sans-serif" textLength="6.5" lengthAdjust="spacingAndGlyphs" >4</text>
<path d="M414.7 946.12H457.4M414.7 967.12H457.4M436.1 946.12V967.12M457.4 946.12V967.12" stroke="#231815" stroke-width="1.4" fill="none"/>
<path d="M430.8 946.12V967.12" stroke="#231815" stroke-width="1.8"/>
<circle cx="447.1" cy="956.72" r="10.4" fill="#fefcfc" stroke="#231815" stroke-width="1.3"/>
<path d="M437.35 956.72H456.85M447.1 946.97V966.47" stroke="#231815" stroke-width="4.5"/>
<path d="M437.35 956.72H456.85M447.1 946.97V966.47" stroke="#fefcfc" stroke-width="1.9000000000000001"/>
<text x="423" y="961.32" font-size="12.5" fill="#231815" text-anchor="middle" font-weight="700" font-family="'Liberation Sans', sans-serif" textLength="6.5" lengthAdjust="spacingAndGlyphs" >5</text>
<path d="M414.7 971.55H457.4M414.7 992.55H457.4M436.1 971.55V992.55M457.4 971.55V992.55" stroke="#231815" stroke-width="1.4" fill="none"/>
<path d="M430.8 971.55V992.55" stroke="#231815" stroke-width="1.8"/>
<circle cx="447.1" cy="982.15" r="10.4" fill="#fefcfc" stroke="#231815" stroke-width="1.3"/>
<path d="M437.35 982.15H456.85M447.1 972.4V991.9" stroke="#231815" stroke-width="4.5"/>
<path d="M437.35 982.15H456.85M447.1 972.4V991.9" stroke="#fefcfc" stroke-width="1.9000000000000001"/>
<text x="423" y="986.75" font-size="12.5" fill="#231815" text-anchor="middle" font-weight="700" font-family="'Liberation Sans', sans-serif" textLength="6.5" lengthAdjust="spacingAndGlyphs" >6</text>
<path d="M414.7 996.98H457.4M414.7 1017.98H457.4M436.1 996.98V1017.98M457.4 996.98V1017.98" stroke="#231815" stroke-width="1.4" fill="none"/>
<path d="M430.8 996.98V1017.98" stroke="#231815" stroke-width="1.8"/>
<circle cx="447.1" cy="1007.58" r="10.4" fill="#fefcfc" stroke="#231815" stroke-width="1.3"/>
<path d="M437.35 1007.58H456.85M447.1 997.83V1017.33" stroke="#231815" stroke-width="4.5"/>
<path d="M437.35 1007.58H456.85M447.1 997.83V1017.33" stroke="#fefcfc" stroke-width="1.9000000000000001"/>
<text x="423" y="1012.18" font-size="12.5" fill="#231815" text-anchor="middle" font-weight="700" font-family="'Liberation Sans', sans-serif" textLength="6.5" lengthAdjust="spacingAndGlyphs" >7</text>
<path d="M414.7 1022.41H457.4M414.7 1043.41H457.4M436.1 1022.41V1043.41M457.4 1022.41V1043.41" stroke="#231815" stroke-width="1.4" fill="none"/>
<path d="M430.8 1022.41V1043.41" stroke="#231815" stroke-width="1.8"/>
<circle cx="447.1" cy="1033.01" r="10.4" fill="#fefcfc" stroke="#231815" stroke-width="1.3"/>
<path d="M437.35 1033.01H456.85M447.1 1023.26V1042.76" stroke="#231815" stroke-width="4.5"/>
<path d="M437.35 1033.01H456.85M447.1 1023.26V1042.76" stroke="#fefcfc" stroke-width="1.9000000000000001"/>
<text x="423" y="1034.91" font-size="12.5" fill="#231815" text-anchor="middle" font-weight="700" font-family="'Liberation Sans', sans-serif" textLength="6.5" lengthAdjust="spacingAndGlyphs" >8</text>
<path d="M414.7 1047.84H457.4M414.7 1068.84H457.4M436.1 1047.84V1068.84M457.4 1047.84V1068.84" stroke="#231815" stroke-width="1.4" fill="none"/>
<path d="M430.8 1047.84V1068.84" stroke="#231815" stroke-width="1.8"/>
<circle cx="447.1" cy="1058.44" r="10.4" fill="#fefcfc" stroke="#231815" stroke-width="1.3"/>
<path d="M437.35 1058.44H456.85M447.1 1048.69V1068.19" stroke="#231815" stroke-width="4.5"/>
<path d="M437.35 1058.44H456.85M447.1 1048.69V1068.19" stroke="#fefcfc" stroke-width="1.9000000000000001"/>
<text x="423" y="1063.04" font-size="12.5" fill="#231815" text-anchor="middle" font-weight="700" font-family="'Liberation Sans', sans-serif" textLength="6.5" lengthAdjust="spacingAndGlyphs" >9</text>
<path d="M414.7 1073.27H457.4M414.7 1094.27H457.4M436.1 1073.27V1094.27M457.4 1073.27V1094.27" stroke="#231815" stroke-width="1.4" fill="none"/>
<path d="M430.8 1073.27V1094.27" stroke="#231815" stroke-width="1.8"/>
<circle cx="447.1" cy="1083.87" r="10.4" fill="#fefcfc" stroke="#231815" stroke-width="1.3"/>
<path d="M437.35 1083.87H456.85M447.1 1074.12V1093.62" stroke="#231815" stroke-width="4.5"/>
<path d="M437.35 1083.87H456.85M447.1 1074.12V1093.62" stroke="#fefcfc" stroke-width="1.9000000000000001"/>
<text x="423" y="1088.47" font-size="12.5" fill="#231815" text-anchor="middle" font-weight="700" font-family="'Liberation Sans', sans-serif" textLength="13.5" lengthAdjust="spacingAndGlyphs" >10</text>
<path d="M414.7 1098.70H457.4M414.7 1119.70H457.4M436.1 1098.70V1119.70M457.4 1098.70V1119.70" stroke="#231815" stroke-width="1.4" fill="none"/>
<path d="M430.8 1098.70V1119.70" stroke="#231815" stroke-width="1.8"/>
<circle cx="447.1" cy="1109.3" r="10.4" fill="#fefcfc" stroke="#231815" stroke-width="1.3"/>
<path d="M437.35 1109.3H456.85M447.1 1099.55V1119.05" stroke="#231815" stroke-width="4.5"/>
<path d="M437.35 1109.3H456.85M447.1 1099.55V1119.05" stroke="#fefcfc" stroke-width="1.9000000000000001"/>
<text x="423" y="1113.9" font-size="12.5" fill="#231815" text-anchor="middle" font-weight="700" font-family="'Liberation Sans', sans-serif" textLength="13.5" lengthAdjust="spacingAndGlyphs" >11</text>
<path d="M414.7 1124.13H457.4M414.7 1145.13H457.4M436.1 1124.13V1145.13M457.4 1124.13V1145.13" stroke="#231815" stroke-width="1.4" fill="none"/>
<path d="M430.8 1124.13V1145.13" stroke="#231815" stroke-width="1.8"/>
<circle cx="447.1" cy="1134.73" r="10.4" fill="#fefcfc" stroke="#231815" stroke-width="1.3"/>
<path d="M437.35 1134.73H456.85M447.1 1124.98V1144.48" stroke="#231815" stroke-width="4.5"/>
<path d="M437.35 1134.73H456.85M447.1 1124.98V1144.48" stroke="#fefcfc" stroke-width="1.9000000000000001"/>
<text x="423" y="1139.33" font-size="12.5" fill="#231815" text-anchor="middle" font-weight="700" font-family="'Liberation Sans', sans-serif" textLength="13.5" lengthAdjust="spacingAndGlyphs" >12</text>
<path d="M414.7 1149.56H457.4M414.7 1170.56H457.4M436.1 1149.56V1170.56M457.4 1149.56V1170.56" stroke="#231815" stroke-width="1.4" fill="none"/>
<path d="M430.8 1149.56V1170.56" stroke="#231815" stroke-width="1.8"/>
<circle cx="447.1" cy="1160.16" r="10.4" fill="#fefcfc" stroke="#231815" stroke-width="1.3"/>
<path d="M437.35 1160.16H456.85M447.1 1150.41V1169.91" stroke="#231815" stroke-width="4.5"/>
<path d="M437.35 1160.16H456.85M447.1 1150.41V1169.91" stroke="#fefcfc" stroke-width="1.9000000000000001"/>
<text x="423" y="1164.76" font-size="12.5" fill="#231815" text-anchor="middle" font-weight="700" font-family="'Liberation Sans', sans-serif" textLength="13.5" lengthAdjust="spacingAndGlyphs" >13</text>
<path d="M414.7 1176.40H457.4M414.7 1197.40H457.4M436.1 1176.40V1197.40M457.4 1176.40V1197.40" stroke="#231815" stroke-width="1.4" fill="none"/>
<path d="M430.8 1176.40V1197.40" stroke="#231815" stroke-width="1.8"/>
<circle cx="447.1" cy="1187.0" r="10.4" fill="#fefcfc" stroke="#231815" stroke-width="1.3"/>
<path d="M437.35 1187.0H456.85M447.1 1177.25V1196.75" stroke="#231815" stroke-width="4.5"/>
<path d="M437.35 1187.0H456.85M447.1 1177.25V1196.75" stroke="#fefcfc" stroke-width="1.9000000000000001"/>
<text x="423" y="1188.9" font-size="12.5" fill="#231815" text-anchor="middle" font-weight="700" font-family="'Liberation Sans', sans-serif" textLength="13.5" lengthAdjust="spacingAndGlyphs" >14</text>
<text x="490.5" y="871.5" font-size="13.5" fill="#231815" text-anchor="start" font-weight="400" font-family="'Liberation Sans', sans-serif" textLength="15.3" lengthAdjust="spacingAndGlyphs" stroke="#231815" stroke-width="0.22">A+</text>
<text x="492.8" y="917.3" font-size="13.5" fill="#231815" text-anchor="start" font-weight="400" font-family="'Liberation Sans', sans-serif" textLength="15.2" lengthAdjust="spacingAndGlyphs" stroke="#231815" stroke-width="0.22">B−</text>
<g transform="translate(-132.9,696.7) scale(1.19)" fill="none" stroke="#5f5a58" stroke-width="0.76">
<rect x="656.3" y="132" width="7.6" height="23.7" rx="2"/>
<path d="M656.3 138.5H663.9M656.3 149.2H663.9"/>
<path d="M663.9 132.5H690.4M663.9 156H690.4M668 132.5V128.6H690.4"/>
<circle cx="662.5" cy="122.3" r="2.4"/><circle cx="662.5" cy="122.3" r="1.1"/><path d="M664 123.6L670.5 128.2"/>
<path d="M668.5 128.4Q669 123 673.5 123Q678 123 678.6 128.4Z"/>
<path d="M690.4 121Q688 145 690.4 166.8H741.9V150"/>
<g transform="translate(688.3,110.4) rotate(33.4)">
<rect x="0" y="0" width="78.5" height="9.1"/>
<path d="M4 0V9.1M74.5 0V9.1"/>
<path d="M6.5 9.1V4Q6.5 1 10.5 1H12.5Q16.5 1 16.5 4V9.1M16.5 9.1L18.5 0M22.1 9.1L23.700000000000003 0"/>
<path d="M24.1 9.1V4Q24.1 1 28.1 1H30.1Q34.1 1 34.1 4V9.1M34.1 9.1L36.1 0M39.7 9.1L41.300000000000004 0"/>
<path d="M41.7 9.1V4Q41.7 1 45.7 1H47.7Q51.7 1 51.7 4V9.1M51.7 9.1L53.7 0M57.300000000000004 9.1L58.900000000000006 0"/>
<path d="M59.300000000000004 9.1V4Q59.300000000000004 1 63.300000000000004 1H65.30000000000001Q69.30000000000001 1 69.30000000000001 4V9.1M69.30000000000001 9.1L71.30000000000001 0M74.9 9.1L76.5 0"/>
<path d="M2 0Q4 -4.2 10 -4.2H62Q72 -4.2 76 0M12 -2.4H64"/>
<rect x="47" y="-7.8" width="10" height="3.6"/>
</g>
<path d="M713.5 123.5Q715.5 116 721 117.5Q726 119.5 722.5 126.5Z"/><path d="M716 121.5L724 124.5"/>
<circle cx="710.6" cy="107.7" r="2.4"/><circle cx="710.6" cy="107.7" r="1.1"/><path d="M712 109L717.5 117"/>
<path d="M660 122.3H655Q649 122 649.5 115Q650.5 108 656 108H708" stroke-dasharray="1.1 1.9" stroke="#444"/>
<path d="M690.4 166.8L700.8 177.5H731L741.9 166.8M697 166.8L703 177.5M735 166.8L729 177.5"/>
<rect x="700.8" y="177.5" width="30.2" height="15.9"/>
<rect x="724.6" y="180.5" width="5.6" height="10.6"/><circle cx="727.4" cy="185.8" r="0.9" fill="#6f6b6a"/>
<path d="M706 193.4V323.8M723.5 193.4V323.8M706 323.8Q710 325.8 713 323.3Q717 321.8 723.5 323.8"/>
<path d="M706 327.6Q710 325.6 714 328.1Q718 329.6 723.5 327.6"/>
<path d="M706 327.6V380.45A8.75 8.75 0 0 0 723.5 380.45V327.6"/>
</g>
<g fill="none" stroke="#5f5a58" stroke-width="0.9">
<path d="M703.5 885.5L711.8 897V1082M726.5 885.5L721.6 897V1082M711.8 1086.5V1139M721.6 1086.5V1139"/>
</g>
<path d="M711.8 1139L717.3 1151.5L721.8 1139" fill="none" stroke="#231815" stroke-width="2.4"/>
<text x="670" y="819.5" font-size="16" fill="#231815" text-anchor="start" font-weight="500" font-family="'Liberation Sans', sans-serif" textLength="48" lengthAdjust="spacingAndGlyphs" stroke="#231815" stroke-width="0.22">热电偶</text>
<text x="724.5" y="819" font-size="16" fill="#231815" text-anchor="start" font-weight="400" font-family="'Liberation Sans', sans-serif" textLength="18" lengthAdjust="spacingAndGlyphs" stroke="#231815" stroke-width="0.22">TC</text>
<path d="M540.4 925.6H548.6M562.8 925.6H577.8M591.1 925.6H606.2M619.5 925.6H634.6M648.7 925.6H657.3M540.4 1203H548.6M562.8 1203H577.8M591.1 1203H606.2M619.5 1203H634.6M648.7 1203H657.3M541 925V932.5M656.7 925V932.5M541 949V964.2M656.7 949V964.2M541 978.3V993.3M656.7 978.3V993.3M541 1010.4V1026.4M656.7 1010.4V1026.4M541 1041.5V1057.6M656.7 1041.5V1057.6M541 1072.6V1087.7M656.7 1072.6V1087.7M541 1104.8V1119.8M656.7 1104.8V1119.8M541 1135.9V1150.5M656.7 1135.9V1150.5M541 1167V1182M656.7 1167V1182M541 1196.1V1203.6M656.7 1196.1V1203.6" stroke="#7a7a7a" stroke-width="1.3" fill="none"/>
<text x="549.5" y="949" font-size="12.8" fill="#231815" text-anchor="start" font-weight="500" font-family="'Liberation Sans', sans-serif" textLength="66.5" lengthAdjust="spacingAndGlyphs" stroke="#231815" stroke-width="0.22">热电偶输入</text>
<path d="M548.6 958.2H591.1M548.6 978.2H591.1M564.6 958.2V978.2M569.9 958.2V978.2M591.1 958.2V978.2" stroke="#231815" stroke-width="1.1" fill="none"/>
<circle cx="580.5" cy="968.2" r="9.7" fill="#fefcfc" stroke="#231815" stroke-width="1.1"/>
<path d="M571.35 968.2H589.65M580.5 959.0500000000001V977.35" stroke="#231815" stroke-width="3.9"/>
<path d="M571.35 968.2H589.65M580.5 959.0500000000001V977.35" stroke="#fefcfc" stroke-width="1.6999999999999997"/>
<text x="556.6" y="972.34" font-size="11.5" fill="#231815" text-anchor="middle" font-weight="700" font-family="'Liberation Sans', sans-serif" >2</text>
<path d="M548.6 982.3H591.1M548.6 1003H591.1M564.6 982.3V1003M569.9 982.3V1003M591.1 982.3V1003" stroke="#231815" stroke-width="1.1" fill="none"/>
<circle cx="580.5" cy="992.65" r="10.050000000000022" fill="#fefcfc" stroke="#231815" stroke-width="1.1"/>
<path d="M571.0 992.65H590.0M580.5 983.15V1002.15" stroke="#231815" stroke-width="3.9"/>
<path d="M571.0 992.65H590.0M580.5 983.15V1002.15" stroke="#fefcfc" stroke-width="1.6999999999999997"/>
<text x="556.6" y="996.79" font-size="11.5" fill="#231815" text-anchor="middle" font-weight="700" font-family="'Liberation Sans', sans-serif" >3</text>
<polyline points="591.1,969.4 598.2,969.4 605.3,981.8 598.2,991.5 591.1,991.5" fill="none" stroke="#231815" stroke-width="1.1" stroke-linejoin="miter" />
<path d="M602 985.5L598.2 991.5" stroke="#231815" stroke-width="2.4"/>
<path d="M594 962.8H602M598 958.8V966.8" stroke="#231815" stroke-width="1.1"/>
<line x1="596" y1="997.7" x2="600" y2="997.7" stroke="#231815" stroke-width="1.1" />
<text x="609.7" y="986.2" font-size="11.2" fill="#231815" text-anchor="start" font-weight="400" font-family="'Liberation Sans', sans-serif" textLength="28.4" lengthAdjust="spacingAndGlyphs" stroke="#231815" stroke-width="0.22">TC/mV</text>
<text x="547.7" y="1042" font-size="13" fill="#231815" text-anchor="start" font-weight="500" font-family="'Liberation Sans', sans-serif" textLength="90.8" lengthAdjust="spacingAndGlyphs" stroke="#231815" stroke-width="0.22">控制输出(常开)</text>
<path d="M546.8 1049.7H585.8M546.8 1068.4H585.8M561.5 1049.7V1068.4M566.3 1049.7V1068.4M585.8 1049.7V1068.4" stroke="#231815" stroke-width="1.1" fill="none"/>
<circle cx="576.05" cy="1059.05" r="9.050000000000022" fill="#fefcfc" stroke="#231815" stroke-width="1.1"/>
<path d="M567.55 1059.05H584.55M576.05 1050.55V1067.55" stroke="#231815" stroke-width="3.9"/>
<path d="M567.55 1059.05H584.55M576.05 1050.55V1067.55" stroke="#fefcfc" stroke-width="1.6999999999999997"/>
<text x="554.15" y="1063.01" font-size="11" fill="#231815" text-anchor="middle" font-weight="700" font-family="'Liberation Sans', sans-serif" >7</text>
<path d="M546.8 1072.4H585.8M546.8 1091.4H585.8M561.5 1072.4V1091.4M566.3 1072.4V1091.4M585.8 1072.4V1091.4" stroke="#231815" stroke-width="1.1" fill="none"/>
<circle cx="576.05" cy="1081.9" r="9.2" fill="#fefcfc" stroke="#231815" stroke-width="1.1"/>
<path d="M567.4 1081.9H584.6999999999999M576.05 1073.25V1090.5500000000002" stroke="#231815" stroke-width="3.9"/>
<path d="M567.4 1081.9H584.6999999999999M576.05 1073.25V1090.5500000000002" stroke="#fefcfc" stroke-width="1.6999999999999997"/>
<text x="554.15" y="1085.86" font-size="11" fill="#231815" text-anchor="middle" font-weight="700" font-family="'Liberation Sans', sans-serif" >8</text>
<polyline points="585.8,1058.3 605.8,1058.3" fill="none" stroke="#231815" stroke-width="1.2" stroke-linejoin="miter" />
<circle cx="608" cy="1058.3" r="2.2" fill="#fefcfc" stroke="#231815" stroke-width="1.1"/>
<polyline points="609.5,1059.8 619.5,1068.4" fill="none" stroke="#231815" stroke-width="1.2" stroke-linejoin="miter" />
<circle cx="612.9" cy="1069.2" r="2.2" fill="#fefcfc" stroke="#231815" stroke-width="1.1"/>
<polyline points="612.9,1071.4 612.9,1081.1 585.8,1081.1" fill="none" stroke="#231815" stroke-width="1.2" stroke-linejoin="miter" />
<text x="592.4" y="1074" font-size="11.5" fill="#231815" text-anchor="start" font-weight="400" font-family="'Liberation Sans', sans-serif" textLength="11.6" lengthAdjust="spacingAndGlyphs" stroke="#231815" stroke-width="0.22">NO</text>
<text x="624.8" y="1073.3" font-size="13" fill="#231815" text-anchor="start" font-weight="400" font-family="'Liberation Sans', sans-serif" textLength="19" lengthAdjust="spacingAndGlyphs" stroke="#231815" stroke-width="0.22">OUT</text>
<text x="548.3" y="1133" font-size="12.8" fill="#231815" text-anchor="start" font-weight="500" font-family="'Liberation Sans', sans-serif" textLength="52.6" lengthAdjust="spacingAndGlyphs" stroke="#231815" stroke-width="0.22">工作电源</text>
<path d="M549.8 1142.4H590.3M549.8 1161.9H590.3M564.6 1142.4V1161.9M569.9 1142.4V1161.9M590.3 1142.4V1161.9" stroke="#231815" stroke-width="1.1" fill="none"/>
<circle cx="580.1" cy="1152.15" r="9.45" fill="#fefcfc" stroke="#231815" stroke-width="1.1"/>
<path d="M571.2 1152.15H589.0M580.1 1143.25V1161.0500000000002" stroke="#231815" stroke-width="3.9"/>
<path d="M571.2 1152.15H589.0M580.1 1143.25V1161.0500000000002" stroke="#fefcfc" stroke-width="1.6999999999999997"/>
<text x="557.2" y="1155.93" font-size="10.5" fill="#231815" text-anchor="middle" font-weight="700" font-family="'Liberation Sans', sans-serif" >13</text>
<path d="M549.8 1165.8H590.3M549.8 1185.3H590.3M564.6 1165.8V1185.3M569.9 1165.8V1185.3M590.3 1165.8V1185.3" stroke="#231815" stroke-width="1.1" fill="none"/>
<circle cx="580.1" cy="1175.55" r="9.45" fill="#fefcfc" stroke="#231815" stroke-width="1.1"/>
<path d="M571.2 1175.55H589.0M580.1 1166.6499999999999V1184.45" stroke="#231815" stroke-width="3.9"/>
<path d="M571.2 1175.55H589.0M580.1 1166.6499999999999V1184.45" stroke="#fefcfc" stroke-width="1.6999999999999997"/>
<text x="557.2" y="1179.33" font-size="10.5" fill="#231815" text-anchor="middle" font-weight="700" font-family="'Liberation Sans', sans-serif" >14</text>
<polyline points="590.3,1153 611.1,1153" fill="none" stroke="#231815" stroke-width="1.2" stroke-linejoin="miter" />
<circle cx="613.6" cy="1153" r="2.5" fill="#fefcfc" stroke="#231815" stroke-width="1.1"/>
<polyline points="590.3,1176.5 611.1,1176.5" fill="none" stroke="#231815" stroke-width="1.2" stroke-linejoin="miter" />
<circle cx="613.6" cy="1176.5" r="2.5" fill="#fefcfc" stroke="#231815" stroke-width="1.1"/>
<text x="598.2" y="1152" font-size="11.5" fill="#231815" text-anchor="start" font-weight="400" font-family="'Liberation Sans', sans-serif" textLength="6.2" lengthAdjust="spacingAndGlyphs" stroke="#231815" stroke-width="0.22">L</text>
<text x="599.5" y="1188" font-size="11" fill="#231815" text-anchor="start" font-weight="400" font-family="'Liberation Sans', sans-serif" textLength="6.7" lengthAdjust="spacingAndGlyphs" stroke="#231815" stroke-width="0.22">N</text>
<line x1="19.7" y1="1252.4" x2="770" y2="1252.4" stroke="#9a9a9a" stroke-width="1.5" stroke-dasharray="17.3 17.6"/>
<text x="47" y="1299.5" font-size="19.5" fill="#231815" text-anchor="start" font-weight="400" font-family="'Liberation Sans', sans-serif" textLength="18" lengthAdjust="spacingAndGlyphs" >★</text>
<text x="78" y="1298.3" font-size="18.4" fill="#111" text-anchor="start" font-weight="500" font-family="'Liberation Sans', sans-serif" textLength="611.8" lengthAdjust="spacingAndGlyphs" stroke="#111" stroke-width="0.35">热电偶输入：&#160;应采用与热电偶对应的补偿导线作为延长线，应有屏蔽层；</text>
<text x="47" y="1333.1" font-size="19.5" fill="#231815" text-anchor="start" font-weight="400" font-family="'Liberation Sans', sans-serif" textLength="18" lengthAdjust="spacingAndGlyphs" >★</text>
<text x="78" y="1331.9" font-size="18.4" fill="#111" text-anchor="start" font-weight="500" font-family="'Liberation Sans', sans-serif" textLength="624.0" lengthAdjust="spacingAndGlyphs" stroke="#111" stroke-width="0.35">热电阻输入：三根导线的电阻值必须相等，每根导线的电阻不能超过15Ω；</text>
<text x="47" y="1367" font-size="19.5" fill="#231815" text-anchor="start" font-weight="400" font-family="'Liberation Sans', sans-serif" textLength="18" lengthAdjust="spacingAndGlyphs" >★</text>
<text x="78" y="1365.8" font-size="18.4" fill="#111" text-anchor="start" font-weight="500" font-family="'Liberation Sans', sans-serif" textLength="613.1" lengthAdjust="spacingAndGlyphs" stroke="#111" stroke-width="0.35">传感器和通讯线应使用屏蔽绞线.，并在一点接地，布线应远离强电走线；</text>
<text x="47" y="1400.6" font-size="19.5" fill="#231815" text-anchor="start" font-weight="400" font-family="'Liberation Sans', sans-serif" textLength="18" lengthAdjust="spacingAndGlyphs" >★</text>
<text x="78" y="1399.4" font-size="18.4" fill="#111" text-anchor="start" font-weight="500" font-family="'Liberation Sans', sans-serif" textLength="455.9" lengthAdjust="spacingAndGlyphs" stroke="#111" stroke-width="0.35">不同外形尺寸仪表，接线图不尽相同，请以实物为准。</text>
<polyline points="97.8,31 97.8,252" fill="none" stroke="#e60012" stroke-width="1.6" stroke-linejoin="miter" />
<polyline points="234.5,60 234.5,142" fill="none" stroke="#231815" stroke-width="1.5" stroke-linejoin="miter" />
<polyline points="285.7,60 285.7,346.8 685.2,346.8 685.2,230.6" fill="none" stroke="#231815" stroke-width="1.6" stroke-linejoin="miter" />
<polyline points="298.7,31 298.7,320.6 656.9,320.6 656.9,230.6" fill="none" stroke="#e60012" stroke-width="1.6" stroke-linejoin="miter" />
<polyline points="165.4,362 165.4,398.7 522.9,398.7 522.9,230.6" fill="none" stroke="#e4007f" stroke-width="1.6" stroke-linejoin="miter" />
<polyline points="105.3,362 105.3,413 491.6,413 491.6,230.6" fill="none" stroke="#00a0e9" stroke-width="1.6" stroke-linejoin="miter" />
<circle cx="97.6" cy="31" r="4.5" fill="#e60012"/>
<circle cx="299" cy="31" r="4.5" fill="#e60012"/>
<circle cx="234.3" cy="60" r="4.5" fill="#231815"/>
<circle cx="285.7" cy="60" r="4.2" fill="#231815"/>
<circle cx="234.5" cy="142" r="4.5" fill="#231815"/>
<polyline points="161.3,252.8 233.3,252.8" fill="none" stroke="#e60012" stroke-width="1.6" stroke-linejoin="miter" />
<circle cx="233.3" cy="253.6" r="4.5" fill="#231815"/>
<polyline points="328.9,208.5 328.9,133.7 710,140.5 722.8,158.2" fill="none" stroke="#e4007f" stroke-width="1.7" stroke-linejoin="miter" />
<polyline points="355,208.5 355,146.7 704,146 712.6,158.2" fill="none" stroke="#00a0e9" stroke-width="1.7" stroke-linejoin="miter" />
<polyline points="358.6,208 363.3,181 381,181 385.4,208" fill="none" stroke="#00a0e9" stroke-width="1.7" stroke-linejoin="miter" />
<circle cx="712.6" cy="158.2" r="1.6" fill="#231815"/>
<circle cx="722.8" cy="158.2" r="1.6" fill="#231815"/>
<polyline points="105.4,362 105.4,414" fill="none" stroke="#00a0e9" stroke-width="1.6" stroke-linejoin="miter" />
<polyline points="165.4,362 165.4,399" fill="none" stroke="#e4007f" stroke-width="1.6" stroke-linejoin="miter" />
<polyline points="91.6,725 91.6,1212.5 478.7,1212.5 478.7,1011.2 451,1011.2" fill="none" stroke="#e60012" stroke-width="1.7" stroke-linejoin="miter" />
<polyline points="110.4,759.1 110.4,1191.5 443.7,1191.5" fill="none" stroke="#231815" stroke-width="1.7" stroke-linejoin="miter" />
<polyline points="154.6,1124 154.6,1191.5" fill="none" stroke="#231815" stroke-width="1.7" stroke-linejoin="miter" />
<polyline points="188,1124 188,1171.7 392.5,1171.7 392.5,1037.2 443,1037.2" fill="none" stroke="#e60012" stroke-width="1.7" stroke-linejoin="miter" />
<polyline points="451.3,1164.9 478.7,1164.9" fill="none" stroke="#e60012" stroke-width="1.7" stroke-linejoin="miter" />
<polyline points="357.2,725 357.2,1091.7 227.8,1091.7" fill="none" stroke="#e60012" stroke-width="1.7" stroke-linejoin="miter" />
<polyline points="338.6,759.1 338.6,1067.3 290.4,1067.3" fill="none" stroke="#231815" stroke-width="1.7" stroke-linejoin="miter" />
<polyline points="224.6,897.4 295.1,897.4 295.1,930" fill="none" stroke="#e60012" stroke-width="1.7" stroke-linejoin="miter" />
<circle cx="91.6" cy="725" r="4.6" fill="#e60012"/>
<circle cx="357.2" cy="725" r="4.6" fill="#e60012"/>
<circle cx="110.4" cy="759.1" r="4.6" fill="#231815"/>
<circle cx="338.6" cy="759.1" r="4.6" fill="#231815"/>
<circle cx="154.4" cy="1191.5" r="5" fill="#231815"/>
<circle cx="478.7" cy="1165.9" r="5.2" fill="#e60012"/>
<polyline points="299.3,1055.6 290.4,1067.3" fill="none" stroke="#231815" stroke-width="1.5" stroke-linejoin="miter" />
<circle cx="295" cy="930" r="4.6" fill="#231815"/>
<circle cx="290.4" cy="1067.3" r="4.8" fill="#231815"/>
<polyline points="451.8,884.5 644.4,865.1 710,865.1 726.5,885.5" fill="none" stroke="#e4007f" stroke-width="1.8" stroke-linejoin="miter" />
<polyline points="451.8,910.7 645.9,873 701.2,873 703.5,885.5" fill="none" stroke="#00a0e9" stroke-width="1.8" stroke-linejoin="miter" />
<circle cx="703.5" cy="885.5" r="1.8" fill="#231815"/>
<circle cx="726.5" cy="885.5" r="1.8" fill="#231815"/>
</svg></body></html>
